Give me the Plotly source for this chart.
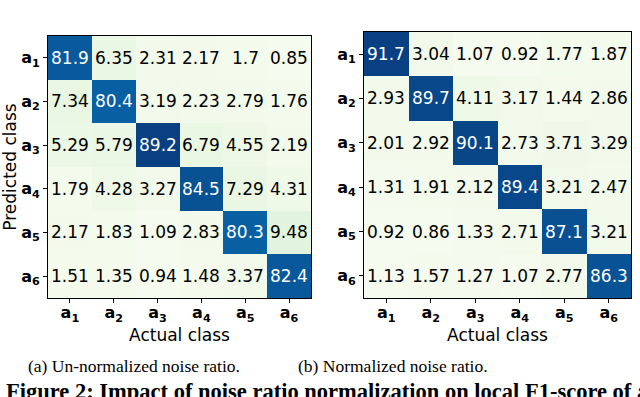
import plotly.graph_objects as go

classes = ['a1', 'a2', 'a3', 'a4', 'a5', 'a6']
tick_labels = ['<b>a<sub>%d</sub></b>' % i for i in range(1, 7)]

# rows = predicted class, columns = actual class
unnormalized = [
    [81.9, 6.35, 2.31, 2.17, 1.7, 0.85],
    [7.34, 80.4, 3.19, 2.23, 2.79, 1.76],
    [5.29, 5.79, 89.2, 6.79, 4.55, 2.19],
    [1.79, 4.28, 3.27, 84.5, 7.29, 4.31],
    [2.17, 1.83, 1.09, 2.83, 80.3, 9.48],
    [1.51, 1.35, 0.94, 1.48, 3.37, 82.4],
]
normalized = [
    [91.7, 3.04, 1.07, 0.92, 1.77, 1.87],
    [2.93, 89.7, 4.11, 3.17, 1.44, 2.86],
    [2.01, 2.92, 90.1, 2.73, 3.71, 3.29],
    [1.31, 1.91, 2.12, 89.4, 3.21, 2.47],
    [0.92, 0.86, 1.33, 2.71, 87.1, 3.21],
    [1.13, 1.57, 1.27, 1.07, 2.77, 86.3],
]

captions = ['(a) Un-normalized noise ratio.', '(b) Normalized noise ratio.']
figure_title = 'Figure 2: Impact of noise ratio normalization on local F1-score of a'

W, H = 640, 397

GNBU = [
    [0.0, '#f7fcf0'], [0.125, '#e0f3db'], [0.25, '#ccebc5'], [0.375, '#a8ddb5'],
    [0.5, '#7bccc4'], [0.625, '#4eb3d3'], [0.75, '#2b8cbe'], [0.875, '#0868ac'],
    [1.0, '#084081'],
]

fig = go.Figure()

# (matrix, x axis, y axis, x domain px, y domain px from top, caption centre px)
panels = [
    (unnormalized, 'x', 'y', (48, 311), (36, 298), 134),
    (normalized, 'x2', 'y2', (364, 631), (32, 298), 393),
]

annotations = []
for k, (z, xa, ya, (x0, x1), (y0, y1), cap_x) in enumerate(panels):
    zmax = max(max(r) for r in z)
    fig.add_trace(go.Heatmap(
        z=z, x=classes, y=classes, xaxis=xa, yaxis=ya,
        colorscale=GNBU, zmin=0, zmax=zmax, showscale=False,
        hoverinfo='skip',
    ))
    for i, row in enumerate(z):
        for j, v in enumerate(row):
            annotations.append(dict(
                x=classes[j], y=classes[i], xref=xa, yref=ya,
                text='{:g}'.format(v), showarrow=False,
                font=dict(family='DejaVu Sans', size=17,
                          color='white' if v > 50 else 'black'),
            ))
    sfx = '' if k == 0 else str(k + 1)
    axis_common = dict(
        showline=True, linecolor='black', linewidth=1, mirror=True,
        ticks='outside', ticklen=4, tickcolor='black', showgrid=False,
        zeroline=False, tickfont=dict(family='DejaVu Sans', size=16, color='black'),
        tickmode='array', tickvals=classes, ticktext=tick_labels,
    )
    fig.layout['xaxis' + sfx] = dict(
        axis_common, domain=[x0 / W, x1 / W], anchor='y' + sfx,
        ticklabelstandoff=-4,
        title=dict(text='Actual class', standoff=0,
                   font=dict(family='DejaVu Sans', size=17, color='black')),
    )
    fig.layout['yaxis' + sfx] = dict(
        axis_common, domain=[1 - y1 / H, 1 - y0 / H], anchor='x' + sfx,
        autorange='reversed',
        title=dict(text='Predicted class' if k == 0 else '', standoff=4,
                   font=dict(family='DejaVu Sans', size=17, color='black')),
    )
    annotations.append(dict(
        x=cap_x / W, y=1 - 366 / H, xref='paper', yref='paper',
        xanchor='center', yanchor='middle',
        text=captions[k], showarrow=False,
        font=dict(family='Liberation Serif', size=17.5, color='black'),
    ))

annotations.append(dict(
    x=4 / W, y=1 - 376.5 / H, xref='paper', yref='paper',
    xanchor='left', yanchor='top',
    text='<b>' + figure_title + '</b>', showarrow=False,
    font=dict(family='Liberation Serif', size=22.5, color='black'),
))

fig.update_layout(
    width=W, height=H,
    margin=dict(l=0, r=0, t=0, b=0),
    paper_bgcolor='white', plot_bgcolor='white',
    annotations=annotations,
)

fig.write_html(
    "out.html",
    config={'displayModeBar': False},
    post_script="document.body.style.margin='0';document.body.style.overflow='hidden';",
)
